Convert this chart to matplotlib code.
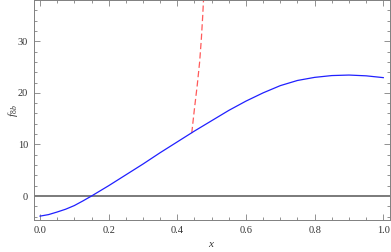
import numpy as np
import matplotlib
matplotlib.use("Agg")
import matplotlib.pyplot as plt
from matplotlib.ticker import MultipleLocator

# values
x_blue = [0.0, 0.025, 0.05, 0.075, 0.1, 0.125, 0.15, 0.175, 0.2, 0.25, 0.3,
          0.35, 0.4, 0.45, 0.5, 0.55, 0.6, 0.65, 0.7, 0.75, 0.8, 0.85,
          0.9, 0.95, 1.0]
f_blue = [-3.9, -3.6, -3.1, -2.55, -1.85, -0.95, 0.0, 1.0, 2.0, 4.1, 6.2,
          8.4, 10.5, 12.6, 14.6, 16.6, 18.4, 20.0, 21.4, 22.4, 23.0, 23.35,
          23.45, 23.3, 22.95]
x_red = [0.442, 0.450, 0.458, 0.465, 0.470, 0.474, 0.477]
f_red = [12.2, 17.0, 21.5, 26.0, 30.5, 35.0, 39.0]

plt.rcParams['font.family'] = ['Liberation Serif', 'DejaVu Serif']
plt.rcParams['mathtext.fontset'] = 'custom'
plt.rcParams['mathtext.it'] = 'Liberation Serif:italic'
plt.rcParams['mathtext.rm'] = 'Liberation Serif'

fig = plt.figure(figsize=(3.91, 2.52), dpi=100)
ax = fig.add_axes([0.0857, 0.127, 0.9117, 0.873])

gray = '#808080'
ax.axhline(0, color='#707070', lw=1.3, zorder=1)
ax.plot(x_blue, f_blue, color='#2020ff', lw=0.9, zorder=3)
ax.plot(x_red, f_red, color='#ff5a5a', lw=0.9, dashes=(5, 2.5), zorder=2)

ax.set_xlim(-0.019, 1.0195)
ax.set_ylim(-4.65, 38)

ax.xaxis.set_major_locator(MultipleLocator(0.2))
ax.xaxis.set_minor_locator(MultipleLocator(0.05))
ax.yaxis.set_major_locator(MultipleLocator(10))
ax.yaxis.set_minor_locator(MultipleLocator(2))
ax.xaxis.set_major_formatter(matplotlib.ticker.FormatStrFormatter('%.1f'))

ax.tick_params(which='both', direction='in', top=True, right=True,
               color=gray, width=0.6, labelsize=7.5, labelcolor='#333333')
ax.tick_params(which='major', length=4, pad=4)
ax.tick_params(which='minor', length=2.3)
for s in ax.spines.values():
    s.set_color(gray)
    s.set_linewidth(0.7)

ax.set_xlabel('$x$', fontsize=8, color='#333333', labelpad=4)
ax.set_ylabel('$f_{8\\,b}$', fontsize=8, color='#333333', rotation=90,
              ha='center', va='center')
ax.yaxis.set_label_coords(-0.058, 0.50)

fig.savefig('out.png', dpi=100)
